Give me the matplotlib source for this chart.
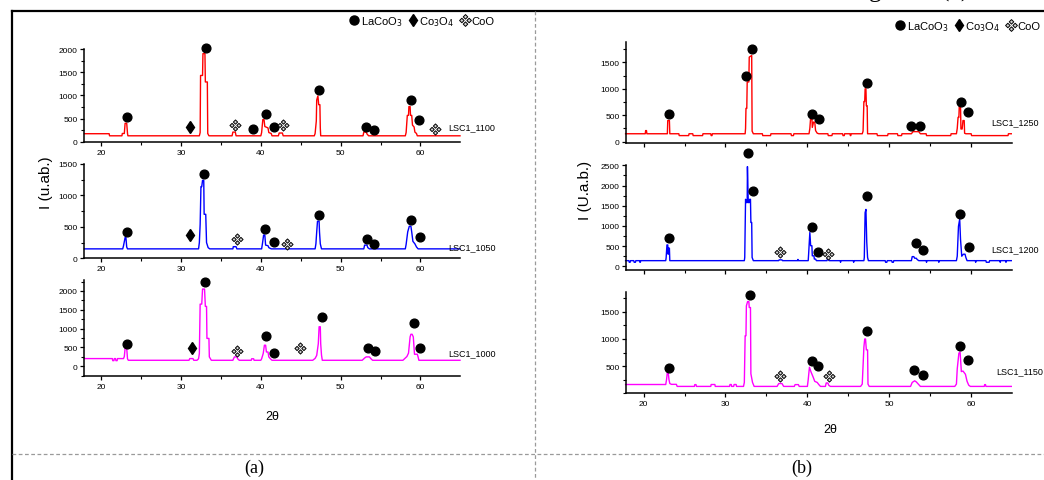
import numpy as np
import matplotlib.pyplot as plt
from matplotlib.path import Path
from matplotlib.lines import Line2D
from matplotlib.ticker import MultipleLocator

plt.rcParams['font.family'] = ['Liberation Sans', 'DejaVu Sans']

# XRD traces: (2theta, intensity) pairs
trace_1100 = [(17.9, 175), (21.0, 175), (21.05, 130), (22.6, 130), (22.65, 180), (22.9, 180), (23.0, 400), (23.2, 400),
              (23.3, 180), (23.35, 130), (32.3, 130), (32.4, 200), (32.45, 1430), (32.7, 1430), (32.75, 1900),
              (33.0, 1900), (33.05, 1290), (33.3, 1290), (33.35, 180), (33.5, 130), (36.4, 130), (36.5, 210),
              (36.8, 210), (36.9, 130), (40.0, 130), (40.1, 200), (40.25, 480), (40.4, 480), (40.5, 330), (40.9, 300),
              (41.0, 200), (41.3, 180), (41.4, 130), (42.2, 130), (42.3, 190), (42.7, 190), (42.8, 130), (46.7, 130),
              (46.8, 180), (46.95, 450), (47.0, 900), (47.15, 990), (47.25, 800), (47.4, 800), (47.45, 300),
              (47.5, 130), (52.8, 130), (52.9, 210), (53.2, 210), (53.3, 170), (53.5, 130), (58.1, 130), (58.2, 200),
              (58.35, 570), (58.5, 570), (58.55, 760), (58.7, 760), (58.75, 570), (58.9, 570), (59.0, 360),
              (59.2, 320), (59.3, 210), (59.5, 180), (59.6, 130), (64.95, 130)]
trace_1050 = [(17.9, 150), (22.7, 150), (22.8, 200), (23.0, 330), (23.1, 330), (23.2, 180), (23.3, 150), (32.2, 150),
              (32.3, 250), (32.4, 540), (32.5, 1140), (32.6, 1140), (32.7, 1240), (32.85, 1240), (32.9, 700),
              (33.1, 700), (33.2, 250), (33.4, 170), (33.6, 150), (36.5, 150), (36.55, 185), (36.9, 185), (37.0, 150),
              (40.1, 150), (40.2, 230), (40.35, 370), (40.5, 370), (40.6, 210), (40.9, 200), (41.0, 170), (41.3, 150),
              (46.8, 150), (46.9, 230), (47.0, 420), (47.1, 590), (47.3, 590), (47.35, 420), (47.45, 230), (47.6, 150),
              (52.9, 150), (53.0, 210), (53.3, 210), (53.4, 170), (53.6, 150), (58.1, 150), (58.2, 220), (58.4, 420),
              (58.6, 510), (58.8, 510), (58.9, 420), (59.05, 270), (59.3, 230), (59.5, 180), (59.7, 150), (64.95, 150)]
trace_1000 = [(17.9, 205), (21.4, 205), (21.45, 150), (21.6, 150), (21.65, 205), (21.8, 205), (21.85, 150), (22.0, 150),
              (22.05, 205), (22.8, 205), (22.9, 260), (23.0, 480), (23.2, 480), (23.3, 200), (23.4, 160), (31.0, 160),
              (31.1, 205), (31.5, 205), (31.6, 160), (32.0, 160), (32.2, 200), (32.3, 340), (32.4, 1650), (32.6, 1650),
              (32.7, 2050), (32.95, 2050), (33.05, 1590), (33.2, 1590), (33.25, 740), (33.5, 740), (33.55, 250),
              (33.8, 160), (36.5, 160), (36.6, 210), (36.7, 250), (37.0, 250), (37.1, 200), (37.3, 160), (38.8, 160),
              (38.85, 200), (39.1, 200), (39.15, 160), (40.0, 160), (40.1, 200), (40.3, 340), (40.45, 560), (40.6, 560),
              (40.7, 380), (40.9, 380), (41.0, 250), (41.2, 200), (41.4, 160), (46.5, 160), (46.8, 210), (47.0, 290),
              (47.2, 600), (47.3, 1050), (47.45, 1050), (47.5, 600), (47.6, 300), (47.7, 160), (52.7, 160), (53.0, 220),
              (53.2, 250), (53.6, 250), (53.8, 200), (54.0, 160), (57.8, 160), (58.0, 200), (58.3, 260), (58.5, 350),
              (58.7, 780), (58.8, 850), (58.95, 850), (59.1, 780), (59.25, 320), (59.6, 320), (59.7, 250), (59.8, 160),
              (64.95, 160)]
trace_1250 = [(17.8, 150), (20.2, 150), (20.25, 210), (20.35, 210), (20.4, 150), (22.9, 150), (22.95, 400), (23.15, 400),
              (23.2, 150), (24.3, 150), (24.35, 115), (25.5, 115), (25.55, 150), (26.0, 150), (26.05, 115), (27.2, 115),
              (27.25, 150), (28.2, 150), (28.25, 115), (28.35, 115), (28.4, 150), (32.4, 150), (32.45, 250), (32.5, 630),
              (32.6, 630), (32.65, 1130), (32.85, 1130), (32.9, 1600), (33.2, 1630), (33.25, 200), (33.4, 150),
              (34.5, 150), (34.55, 115), (35.5, 115), (35.55, 150), (38.0, 150), (38.05, 115), (38.3, 115),
              (38.35, 150), (40.2, 150), (40.3, 250), (40.4, 460), (40.55, 460), (40.6, 270), (40.75, 370), (40.9, 370),
              (41.0, 210), (41.2, 160), (41.4, 150), (42.5, 150), (42.55, 115), (43.0, 115), (43.05, 150), (44.3, 150),
              (44.35, 115), (44.5, 115), (44.55, 150), (45.2, 150), (45.25, 115), (45.3, 115), (45.35, 150), (46.7, 150),
              (46.8, 200), (46.9, 760), (47.0, 760), (47.05, 1000), (47.15, 1000), (47.2, 680), (47.3, 680),
              (47.35, 150), (48.5, 150), (48.55, 115), (49.8, 115), (49.85, 150), (51.0, 150), (51.05, 115),
              (51.5, 115), (51.55, 150), (52.7, 150), (52.9, 190), (53.6, 190), (53.8, 150), (54.5, 150), (54.55, 115),
              (57.5, 115), (57.55, 150), (58.2, 150), (58.3, 250), (58.4, 460), (58.5, 460), (58.55, 680), (58.7, 680),
              (58.75, 240), (58.9, 240), (59.0, 400), (59.15, 400), (59.2, 160), (59.35, 150), (60.0, 150),
              (60.05, 115), (64.5, 115), (64.55, 150), (64.9, 150)]
trace_1200 = [(17.8, 140), (18.2, 140), (18.25, 100), (18.35, 100), (18.4, 140), (18.8, 140), (18.85, 100), (19.0, 100),
              (19.05, 140), (19.5, 140), (19.55, 100), (19.6, 100), (19.65, 140), (22.7, 140), (22.75, 210),
              (22.85, 530), (22.95, 530), (23.0, 300), (23.05, 450), (23.15, 450), (23.2, 140), (32.3, 140),
              (32.35, 220), (32.45, 1660), (32.55, 1580), (32.65, 1580), (32.68, 2470), (32.78, 1580), (32.9, 1580),
              (32.95, 1660), (33.05, 1660), (33.1, 1085), (33.2, 1085), (33.25, 220), (33.4, 140), (36.5, 140),
              (36.55, 160), (36.9, 160), (36.95, 140), (38.8, 140), (38.85, 170), (38.9, 140), (40.1, 140),
              (40.15, 300), (40.3, 840), (40.4, 510), (40.55, 510), (40.6, 260), (40.8, 260), (40.85, 180), (41.0, 180),
              (41.1, 140), (42.4, 140), (42.45, 180), (42.6, 180), (42.65, 140), (44.0, 140), (44.05, 100), (44.1, 140),
              (45.6, 140), (45.65, 100), (45.7, 140), (46.9, 140), (46.95, 220), (47.05, 1330), (47.15, 1410),
              (47.25, 600), (47.35, 220), (47.45, 140), (49.5, 140), (49.55, 100), (49.7, 100), (49.75, 140),
              (50.3, 140), (50.35, 100), (50.5, 100), (50.55, 140), (52.7, 140), (52.8, 240), (53.0, 240), (53.1, 200),
              (53.3, 200), (53.4, 170), (53.6, 140), (54.5, 140), (54.55, 100), (54.6, 140), (56.0, 140), (56.05, 100),
              (56.1, 140), (58.2, 140), (58.3, 250), (58.45, 990), (58.6, 1170), (58.7, 670), (58.85, 250),
              (59.05, 300), (59.25, 300), (59.35, 220), (59.5, 140), (60.5, 140), (60.55, 100), (60.6, 140),
              (61.8, 140), (61.85, 100), (62.2, 100), (62.25, 140), (63.5, 140), (63.55, 100), (63.6, 140), (64.2, 140),
              (64.25, 100), (64.3, 140), (64.9, 140)]
trace_1150 = [(17.8, 162), (22.7, 162), (22.8, 250), (22.9, 390), (23.0, 390), (23.1, 250), (23.2, 180), (23.4, 165),
              (24.0, 165), (24.1, 127), (26.2, 127), (26.25, 160), (26.4, 160), (26.45, 127), (28.2, 127), (28.25, 162),
              (28.7, 162), (28.75, 127), (30.5, 127), (30.55, 162), (30.7, 162), (30.75, 127), (31.0, 127),
              (31.05, 162), (31.3, 162), (31.35, 127), (32.2, 127), (32.3, 200), (32.4, 1060), (32.5, 1060),
              (32.55, 1610), (32.7, 1690), (32.85, 1690), (32.9, 1580), (33.05, 1580), (33.1, 360), (33.3, 200),
              (33.5, 127), (36.3, 127), (36.5, 180), (36.9, 180), (37.1, 127), (38.4, 127), (38.5, 160), (38.9, 160),
              (39.0, 127), (40.0, 127), (40.1, 250), (40.25, 480), (40.45, 390), (40.7, 300), (40.9, 220), (41.2, 200),
              (41.4, 160), (41.6, 127), (42.2, 127), (42.3, 190), (42.5, 190), (42.6, 150), (42.8, 127), (46.5, 127),
              (46.7, 170), (46.9, 850), (47.0, 1000), (47.1, 1000), (47.2, 800), (47.35, 800), (47.4, 170),
              (47.55, 127), (52.6, 127), (52.8, 200), (53.1, 230), (53.3, 210), (53.6, 160), (53.8, 127), (58.0, 127),
              (58.2, 170), (58.3, 450), (58.5, 740), (58.65, 760), (58.8, 400), (59.0, 410), (59.3, 350), (59.5, 220),
              (59.7, 150), (59.9, 127), (61.6, 127), (61.65, 160), (61.75, 160), (61.8, 127), (64.9, 127)]

# phase markers (2theta, intensity)
lacoo3_1100 = [(23.26, 535), (33.1, 2030), (39.05, 285), (40.6, 607), (41.7, 321), (47.34, 1121), (53.16, 321),
               (54.2, 250), (58.85, 900), (59.86, 464)]
co3o4_1100 = [(31.17, 321)]
coo_1100 = [(36.74, 357), (42.8, 357), (61.8, 285)]
lacoo3_1050 = [(23.26, 421), (32.85, 1337), (40.51, 474), (41.64, 258), (47.34, 684), (53.28, 310), (54.2, 232),
               (58.85, 605), (59.98, 337)]
co3o4_1050 = [(31.17, 363)]
coo_1050 = [(37.04, 310), (43.23, 232)]
lacoo3_1000 = [(23.26, 587), (33.06, 2225), (40.6, 810), (41.7, 356), (47.63, 1317), (53.37, 490), (54.25, 400),
               (59.15, 1139), (59.98, 498)]
co3o4_1000 = [(31.38, 498)]
coo_1000 = [(37.04, 409), (44.9, 498)]
lacoo3_1250 = [(23.14, 524), (32.51, 1237), (33.2, 1755), (40.57, 524), (41.47, 429), (47.25, 1111), (52.67, 303),
               (53.77, 303), (58.7, 758), (59.59, 556)]
co3o4_1250 = []
coo_1250 = []
lacoo3_1200 = [(23.14, 690), (32.71, 2795), (33.32, 1866), (40.57, 986), (41.26, 362), (47.25, 1743), (53.27, 567),
               (54.17, 403), (58.65, 1290), (59.71, 485)]
co3o4_1200 = []
coo_1200 = [(36.66, 362), (42.56, 304)]
lacoo3_1150 = [(23.14, 469), (33.0, 1812), (40.57, 591), (41.26, 499), (47.25, 1153), (53.07, 432), (54.09, 341),
               (58.65, 877), (59.59, 615)]
co3o4_1150 = []
coo_1150 = [(36.7, 316), (42.6, 316)]

W, H = 1044, 481
fig = plt.figure(figsize=(W / 100, H / 100), dpi=100)

# four-diamond marker used for CoO
d = 0.34
verts, codes = [], []
for cx, cy in [(0, 0.55), (0.55, 0), (0, -0.55), (-0.55, 0)]:
    verts += [(cx, cy + d), (cx + d, cy), (cx, cy - d), (cx - d, cy), (cx, cy + d)]
    codes += [Path.MOVETO, Path.LINETO, Path.LINETO, Path.LINETO, Path.CLOSEPOLY]
coo_marker = Path(verts, codes)


def px_axes(x0, y0, x1, y1):
    return fig.add_axes([x0 / W, 1 - y1 / H, (x1 - x0) / W, (y1 - y0) / H])


def draw(ax, trace, color, lac, co3, coo, ylim, yticks, label, lab_xy, xlabels=True):
    t = np.array(trace)
    ax.plot(t[:, 0], t[:, 1], color=color, lw=1.0, clip_on=False)
    if lac:
        a = np.array(lac)
        ax.plot(a[:, 0], a[:, 1], 'o', color='black', ms=6.3, clip_on=False)
    if co3:
        a = np.array(co3)
        ax.plot(a[:, 0], a[:, 1], 'd', color='black', ms=6.5, clip_on=False)
    if coo:
        a = np.array(coo)
        ax.plot(a[:, 0], a[:, 1], ls='none', marker=coo_marker, ms=8, mfc='#cfcfcf', mec='black', mew=0.7,
                clip_on=False)
    ax.text(lab_xy[0], lab_xy[1], label, fontsize=6.5, va='center', ha='left')
    ax.set_xlim(17.85, 64.95)
    ax.set_ylim(*ylim)
    ax.set_xticks([20, 30, 40, 50, 60])
    ax.xaxis.set_minor_locator(MultipleLocator(5))
    ax.set_yticks(yticks)
    ax.yaxis.set_minor_locator(MultipleLocator(250))
    for s in ['top', 'right']:
        ax.spines[s].set_visible(False)
    for s in ['left', 'bottom']:
        ax.spines[s].set_linewidth(1.1)
    ax.tick_params(which='major', direction='out', length=3, width=0.9, labelsize=6, pad=1.5)
    ax.tick_params(which='minor', direction='out', length=2, width=0.8)
    if not xlabels:
        ax.tick_params(labelbottom=False)
    ax.patch.set_alpha(0)


ax = px_axes(84, 50, 460, 143.3)
draw(ax, trace_1100, 'red', lacoo3_1100, co3o4_1100, coo_1100, (-10, 2000), [0, 500, 1000, 1500, 2000],
     'LSC1_1100', (63.5, 330))
ax = px_axes(84, 165, 460, 259.3)
draw(ax, trace_1050, 'blue', lacoo3_1050, co3o4_1050, coo_1050, (0, 1500), [0, 500, 1000, 1500],
     'LSC1_1050', (63.5, 180))
ax = px_axes(84, 281, 460, 377.3)
draw(ax, trace_1000, 'magenta', lacoo3_1000, co3o4_1000, coo_1000, (-265, 2290), [0, 500, 1000, 1500, 2000],
     'LSC1_1000', (63.5, 355))

ax = px_axes(626, 43.3, 1011.7, 144)
draw(ax, trace_1250, 'red', lacoo3_1250, co3o4_1250, coo_1250, (-25, 1880), [0, 500, 1000, 1500],
     'LSC1_1250', (62.4, 379), xlabels=False)
ax = px_axes(626, 166, 1011.7, 270.7)
draw(ax, trace_1200, 'blue', lacoo3_1200, co3o4_1200, coo_1200, (-84, 2510), [0, 500, 1000, 1500, 2000, 2500],
     'LSC1_1200', (62.4, 427), xlabels=False)
ax = px_axes(626, 293.3, 1011.7, 394.3)
draw(ax, trace_1150, 'magenta', lacoo3_1150, co3o4_1150, coo_1150, (0, 1860), [500, 1000, 1500],
     'LSC1_1150', (63.05, 408))

# page frame, captions and axis titles in pixel coordinates
frame = fig.add_axes([0, 0, 1, 1], zorder=-1)
frame.set_axis_off()
frame.set_xlim(0, W)
frame.set_ylim(H, 0)
frame.plot([12, W], [12, 12], color='black', lw=1.6)
frame.plot([12, 12], [12, H], color='black', lw=1.6)
frame.plot([535, 535], [12, H], color='#9a9a9a', lw=0.9, ls=(0, (3, 2)))
frame.plot([12, W], [455, 455], color='#9a9a9a', lw=0.9, ls=(0, (3, 2)))
frame.text(254, 468, '(a)', fontsize=13, family='Liberation Serif', ha='center', va='center')
frame.text(802, 468, '(b)', fontsize=13, family='Liberation Serif', ha='center', va='center')
# caption line of the page above, mostly cut off by the top edge
frame.text(914, -3, 'Figure', fontsize=18, family='Liberation Serif', ha='right', va='baseline')
frame.text(955, -3, '(b)', fontsize=18, family='Liberation Serif', ha='center', va='baseline')
frame.text(46, 183, 'I (u.ab.)', fontsize=11, rotation=90, ha='center', va='center')
frame.text(585, 190, 'I (U.a.b.)', fontsize=11, rotation=90, ha='center', va='center')
frame.text(272, 417, '2θ', fontsize=9, ha='center', va='center')
frame.text(830, 430, '2θ', fontsize=9, ha='center', va='center')

# phase key
handles = [Line2D([], [], ls='none', marker='o', color='black', ms=6.5),
           Line2D([], [], ls='none', marker='d', color='black', ms=6.5),
           Line2D([], [], ls='none', marker=coo_marker, ms=8.5, mfc='#cfcfcf', mec='black', mew=0.7)]
names = ['LaCoO$_3$', 'Co$_3$O$_4$', 'CoO']
for x_right, y_mid in [(500, 22), (1046, 27)]:
    fig.legend(handles, names, ncol=3, frameon=False, fontsize=8, handlelength=0.9, handletextpad=0.15,
               columnspacing=0.5, borderpad=0, loc='center right',
               bbox_to_anchor=(x_right / W, 1 - y_mid / H))

fig.savefig('out.png', dpi=100)
